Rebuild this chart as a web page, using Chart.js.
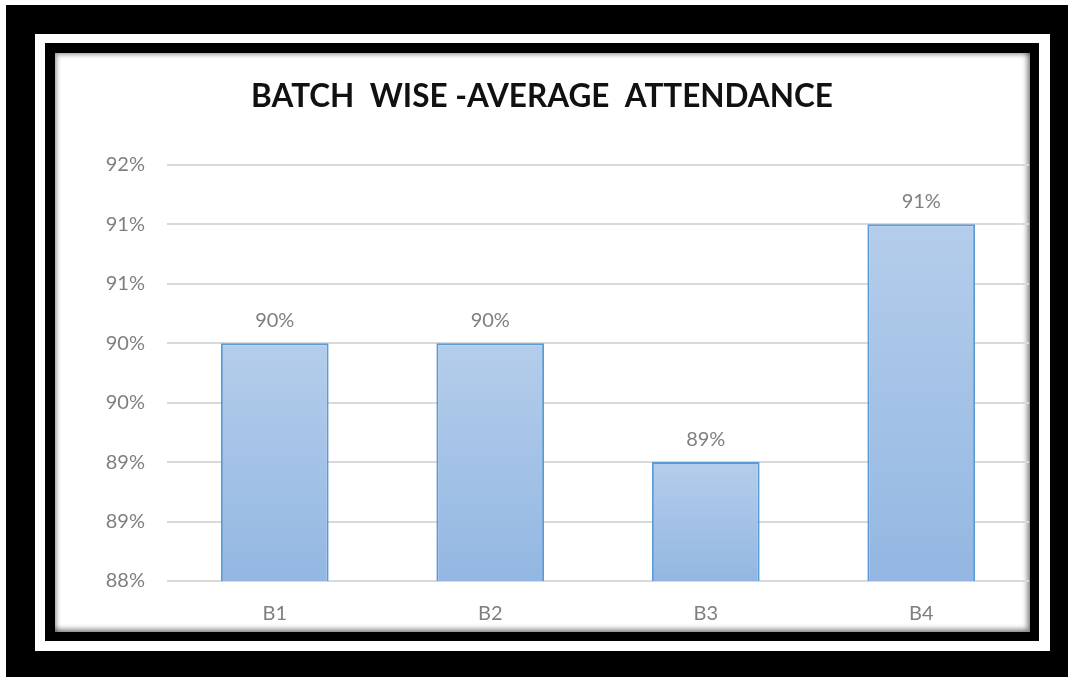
<!DOCTYPE html>
<html>
<head>
<meta charset="utf-8">
<script src="https://cdn.jsdelivr.net/npm/chart.js@4.4.1/dist/chart.umd.min.js"></script>
<style>
  html, body { margin: 0; padding: 0; background: #fff; width: 1068px; height: 677px; overflow: hidden; }
  .box { position: absolute; }
  #frame1 { left: 6px; top: 5px; width: 1062px; height: 672px; background: #000; }
  #frame2 { left: 35px; top: 34px; width: 1015px; height: 617px; background: #fff; }
  #frame3 { left: 45px; top: 43px; width: 994px; height: 598px; background: #000; }
  #chartBox { left: 55px; top: 53px; width: 975px; height: 579px; background: #fff;
    box-shadow: inset 2px 2px 4px rgba(0,0,0,0.35), inset -3px -3px 5px rgba(0,0,0,0.45); }
</style>
</head>
<body>
<div class="box" id="frame1"></div>
<div class="box" id="frame2"></div>
<div class="box" id="frame3"></div>
<div class="box" id="chartBox"><canvas id="chart" width="975" height="579"></canvas></div>
<script>
// chart data
const batches = ["B1", "B2", "B3", "B4"];
const attendance = [90, 90, 89, 91];
const valueLabels = ["90%", "90%", "89%", "91%"];
const yTickLabels = ["88%", "89%", "89%", "90%", "90%", "91%", "91%", "92%"];

const grey = "#7f7f7f";

// bar value labels drawn above each bar
const barLabels = {
  id: "barLabels",
  afterDatasetsDraw(chart) {
    const ctx = chart.ctx;
    const meta = chart.getDatasetMeta(0);
    ctx.save();
    ctx.font = "20px Lato";
    ctx.fillStyle = grey;
    ctx.textAlign = "center";
    ctx.textBaseline = "middle";
    meta.data.forEach((bar, i) => {
      ctx.fillText(valueLabels[i], bar.x, bar.y - 23);
    });
    ctx.restore();
  },
};

function barFill(context) {
  const chart = context.chart;
  if (!chart.chartArea) return "#a6c3e7";
  const y = chart.scales.y;
  const top = y.getPixelForValue(attendance[context.dataIndex]);
  const bottom = y.getPixelForValue(y.min);
  const g = chart.ctx.createLinearGradient(0, top, 0, bottom);
  g.addColorStop(0, "#b4cdeb");
  g.addColorStop(1, "#93b7e2");
  return g;
}

new Chart(document.getElementById("chart"), {
  type: "bar",
  data: {
    labels: batches,
    datasets: [
      {
        data: attendance,
        backgroundColor: barFill,
        borderColor: "#5b9bd5",
        borderWidth: 2,
        borderSkipped: "bottom",
        categoryPercentage: 1,
        barPercentage: 0.5,
      },
    ],
  },
  options: {
    responsive: false,
    animation: false,
    layout: { padding: { left: 0, right: 1, top: 0, bottom: 0 } },
    plugins: {
      legend: { display: false },
      tooltip: { enabled: false },
      title: {
        display: true,
        text: "BATCH  WISE -AVERAGE  ATTENDANCE",
        color: "#111",
        font: { family: "Lato", size: 31.5, weight: "bold", lineHeight: 1.2 },
        padding: { top: 25, bottom: 49 },
      },
    },
    scales: {
      x: {
        grid: { display: false },
        border: { display: false },
        ticks: { color: grey, font: { family: "Lato", size: 20 }, padding: 13 },
        afterFit(scale) { scale.height = 51; },
      },
      y: {
        min: 88,
        max: 91.5,
        border: { display: false },
        grid: { color: "#d9d9d9", lineWidth: 2, drawTicks: false },
        ticks: {
          stepSize: 0.5,
          color: grey,
          font: { family: "Lato", size: 20 },
          padding: 22,
          callback: (v, i) => yTickLabels[i],
        },
        afterFit(scale) { scale.width = 112; },
      },
    },
  },
  plugins: [barLabels],
});
</script>
</body>
</html>
